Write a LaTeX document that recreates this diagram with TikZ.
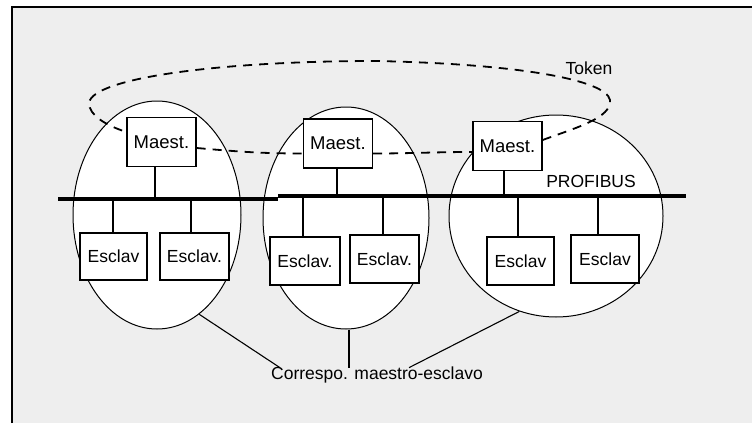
\documentclass[tikz,border=0pt]{standalone}
\usepackage{fontspec}
\setmainfont{Liberation Sans}
\usetikzlibrary{shapes.geometric}
\definecolor{panel}{HTML}{EEEEEE}
\begin{document}
\begin{tikzpicture}[x=1pt,y=-1pt,
  label/.style={font=\fontsize{17.5}{20}\selectfont, inner sep=1pt},
  unit/.style={draw, fill=white, line width=1.4pt, inner sep=0pt,
    font=\fontsize{17.5}{20}\selectfont},
  master/.style={unit, minimum width=69pt, minimum height=49pt,
    font=\fontsize{18.5}{20}\selectfont},
  slave/.style={unit, minimum width=68pt, minimum height=47pt},
  zone/.style={ellipse, draw, fill=white, line width=1pt, inner sep=0pt},
  wire/.style={line width=1.5pt},
  bus/.style={line width=4pt},
  token/.style={line width=1.8pt, dash pattern=on 9pt off 7pt},
  leader/.style={line width=1.1pt}]
\useasboundingbox (0,0) rectangle (752,423);
\fill[white] (0,0) rectangle (752,423);
\fill[panel] (12,7) rectangle (752,423);
\draw[line width=2pt] (12,423) -- (12,7) -- (752,7);

% master-slave groups
\node[zone, minimum width=168pt, minimum height=228pt] (e1) at (157,215) {};
\node[zone, minimum width=166pt, minimum height=222pt] (e2) at (346,218) {};
\node[zone, minimum width=214pt, minimum height=202pt] (e3) at (556,216) {};

% bus
\coordinate (busA) at (58,199);
\coordinate (busB) at (278,199);
\coordinate (busC) at (278,196);
\coordinate (busD) at (686,196);
\draw[bus] (busA) -- (busB);
\draw[bus] (busC) -- (busD);

% stations
\node[master] (m1) at (161.5,142) {Maest.};
\node[master] (m2) at (338,143.5) {Maest.};
\node[master] (m3) at (507.5,146) {Maest.};

\node[slave, minimum width=67pt] (s1) at (113.5,256.5) {Esclav};
\node[slave, minimum width=69pt] (s2) at (194.5,256.5) {Esclav.};
\node[slave, minimum width=70pt, minimum height=48pt] (s3) at (305,261) {Esclav.};
\node[slave, minimum width=69pt, minimum height=48pt] (s4) at (384.5,259) {Esclav.};
\node[slave, minimum width=67pt, minimum height=48pt] (s5) at (520.5,261) {Esclav};
\node[slave, minimum width=68pt, minimum height=48pt] (s6) at (605,259) {Esclav};

% drops to the bus
\draw[wire] ([xshift=-6.5pt]m1.south) -- ([xshift=-6.5pt]m1.south |- busA);
\draw[wire] ([xshift=-1pt]m2.south) -- ([xshift=-1pt]m2.south |- busC);
\draw[wire] ([xshift=-3.5pt]m3.south) -- ([xshift=-3.5pt]m3.south |- busC);
\draw[wire] ([xshift=-0.5pt]s1.north) -- ([xshift=-0.5pt]s1.north |- busA);
\draw[wire] ([xshift=-3.5pt]s2.north) -- ([xshift=-3.5pt]s2.north |- busA);
\draw[wire] ([xshift=-2pt]s3.north) -- ([xshift=-2pt]s3.north |- busC);
\draw[wire] ([xshift=-1.5pt]s4.north) -- ([xshift=-1.5pt]s4.north |- busC);
\draw[wire] ([xshift=-2.5pt]s5.north) -- ([xshift=-2.5pt]s5.north |- busC);
\draw[wire] ([xshift=-7pt]s6.north) -- ([xshift=-7pt]s6.north |- busC);

% token ring between the masters
\coordinate (tR) at (610,100);
\coordinate (tT) at (376,61);
\coordinate (tL) at (89,103);
\draw[token] ([yshift=-6pt]m1.east) to[out=-5,in=180] ([yshift=-10pt]m2.west);
\draw[token] ([yshift=-10pt]m2.east) to[out=0,in=180] ([yshift=-6pt]m3.west);
\draw[token] ([yshift=6pt]m3.east) .. controls (575,128) and (612,118) .. (tR)
  .. controls (606,80) and (520,64) .. (tT)
  .. controls (220,61) and (92,78) .. (tL)
  .. controls (89,115) and (105,125) .. ([yshift=10pt]m1.west);

% labels
\node[label] (tok) at (589,68) {Token};
\node[label] (pb) at (591,181) {PROFIBUS};
\node[label] (cm) at (377,375) {Correspo. maestro-esclavo};

% leaders
\draw[leader] (e1.-67) -- ([xshift=10pt,yshift=-2pt]cm.north west);
\draw[leader] ([xshift=3pt]e2.south) -- ([xshift=3pt,yshift=-2pt]e2.south |- cm.north);
\draw[leader] (e3.-111) -- ([xshift=32pt,yshift=-2pt]cm.north);
\end{tikzpicture}
\end{document}
